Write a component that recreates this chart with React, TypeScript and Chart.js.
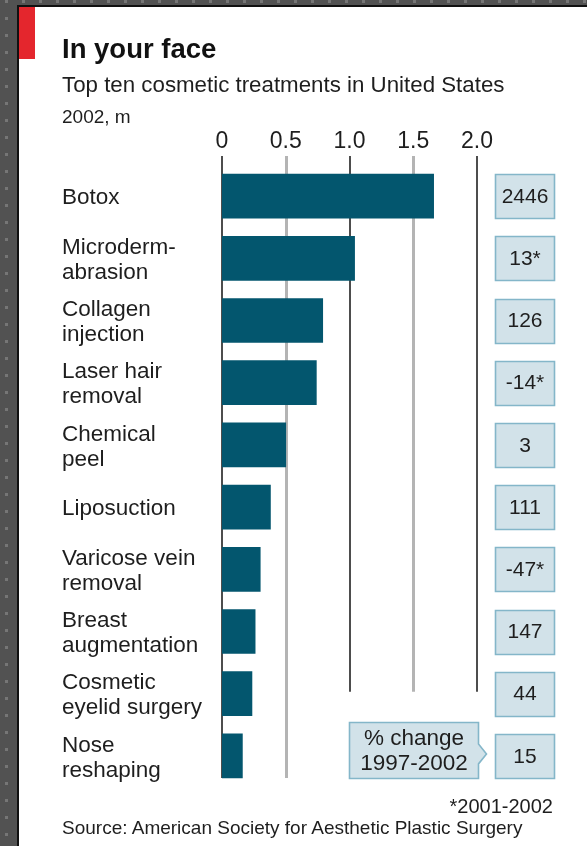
import React, { useEffect, useRef } from 'react';
import { Chart, registerables } from 'chart.js';

Chart.register(...registerables);

const FONT = "'Liberation Sans', Arial, Helvetica, sans-serif";

// ---- data ----
const categories: string[][] = [
  ['Botox'],
  ['Microderm-', 'abrasion'],
  ['Collagen', 'injection'],
  ['Laser hair', 'removal'],
  ['Chemical', 'peel'],
  ['Liposuction'],
  ['Varicose vein', 'removal'],
  ['Breast', 'augmentation'],
  ['Cosmetic', 'eyelid surgery'],
  ['Nose', 'reshaping'],
];
const millions2002: number[] = [1.66, 1.04, 0.79, 0.74, 0.5, 0.38, 0.3, 0.26, 0.235, 0.16];
const pctChange: string[] = ['2446', '13*', '126', '-14*', '3', '111', '-47*', '147', '44', '15'];
const xTickValues: number[] = [0, 0.5, 1.0, 1.5, 2.0];
const xTickLabels: string[] = ['0', '0.5', '1.0', '1.5', '2.0'];
const calloutLines: string[] = ['% change', '1997-2002'];

const titleText = 'In your face';
const subtitleText = 'Top ten cosmetic treatments in United States';
const unitText = '2002, m';
const footnoteText = '*2001-2002';
const sourceText = 'Source: American Society for Aesthetic Plastic Surgery';

// ---- styles ----
const BAR_COLOR = '#03566e';
const BOX_FILL = '#d2e2e9';
const BOX_STROKE = '#84b6c9';
const TEXT = '#1e1e1e';
const BAR_THICK = 44;

const gridPlugin = {
  id: 'econGrid',
  beforeDatasetsDraw(chart: any) {
    const { ctx, chartArea, scales } = chart;
    const xs = scales.x;
    const ys = scales.y;
    const n = categories.length;
    const longBottom = ys.getPixelForValue(n - 1) + BAR_THICK / 2;
    const shortBottom = ys.getPixelForValue(n - 2) - 2;
    ctx.save();
    xTickValues.forEach((v) => {
      const whole = Number.isInteger(v);
      const x = Math.round(xs.getPixelForValue(v)) + (whole ? 0 : 0.5);
      ctx.strokeStyle = whole ? '#4d4d4d' : '#b4b4b4';
      ctx.lineWidth = whole ? 2 : 3;
      ctx.beginPath();
      ctx.moveTo(x, chartArea.top - 9);
      ctx.lineTo(x, v <= 0.5 ? longBottom : shortBottom);
      ctx.stroke();
    });
    ctx.restore();
  },
};

const boxesPlugin = {
  id: 'econBoxes',
  afterDatasetsDraw(chart: any) {
    const { ctx, scales } = chart;
    const xs = scales.x;
    const ys = scales.y;
    const right = xs.getPixelForValue(2.0);
    const bx = right + 18.5;
    const bw = 59;
    ctx.save();
    ctx.lineWidth = 1.6;
    ctx.font = `21px ${FONT}`;
    ctx.textAlign = 'center';
    ctx.textBaseline = 'middle';
    pctChange.forEach((label, i) => {
      const yc = ys.getPixelForValue(i);
      const top = Math.round(yc - BAR_THICK / 2) + 0.5;
      ctx.fillStyle = BOX_FILL;
      ctx.strokeStyle = BOX_STROKE;
      ctx.beginPath();
      ctx.rect(bx, top, bw, BAR_THICK);
      ctx.fill();
      ctx.stroke();
      ctx.fillStyle = TEXT;
      ctx.fillText(label, bx + bw / 2, yc + 1);
    });

    // callout box
    const n = categories.length;
    const cl = Math.round(xs.getPixelForValue(1.0)) - 0.5;
    const cr = Math.round(xs.getPixelForValue(2.0)) + 1.5;
    const yLast = ys.getPixelForValue(n - 1);
    const ct = Math.round(yLast - 34) + 0.5;
    const cb = Math.round(yLast + BAR_THICK / 2) + 0.5;
    const tipY = yLast - 2;
    ctx.fillStyle = BOX_FILL;
    ctx.strokeStyle = BOX_STROKE;
    ctx.beginPath();
    ctx.moveTo(cl, ct);
    ctx.lineTo(cr, ct);
    ctx.lineTo(cr, tipY - 10);
    ctx.lineTo(cr + 8, tipY);
    ctx.lineTo(cr, tipY + 10);
    ctx.lineTo(cr, cb);
    ctx.lineTo(cl, cb);
    ctx.closePath();
    ctx.fill();
    ctx.stroke();
    ctx.fillStyle = TEXT;
    ctx.font = `22.5px ${FONT}`;
    const cx = (cl + cr) / 2;
    const cm = (ct + cb) / 2;
    ctx.fillText(calloutLines[0], cx, cm - 12);
    ctx.fillText(calloutLines[1], cx, cm + 13);
    ctx.restore();
  },
};

function ChartCanvas() {
  const ref = useRef<HTMLCanvasElement | null>(null);
  useEffect(() => {
    if (!ref.current) return;
    Chart.defaults.font.family = FONT;
    const chart = new Chart(ref.current, {
      type: 'bar',
      data: {
        labels: categories,
        datasets: [
          {
            data: millions2002,
            backgroundColor: BAR_COLOR,
            borderWidth: 0,
            barThickness: BAR_THICK,
          },
        ],
      },
      options: {
        indexAxis: 'y',
        responsive: false,
        devicePixelRatio: 1,
        animation: false,
        events: [],
        layout: { padding: { left: 62, top: 120, right: 110, bottom: 59 } },
        plugins: {
          legend: { display: false },
          tooltip: { enabled: false },
          title: { display: false },
        },
        scales: {
          x: {
            position: 'top',
            min: 0,
            max: 2,
            grid: { display: false, drawTicks: true, tickLength: 10 },
            border: { display: false },
            afterBuildTicks: (scale: any) => {
              scale.ticks = xTickValues.map((v) => ({ value: v }));
            },
            afterFit: (scale: any) => {
              scale.height = 45;
            },
            ticks: {
              autoSkip: false,
              maxRotation: 0,
              padding: 0,
              color: TEXT,
              font: { size: 23, lineHeight: 1.2 },
              callback: (_v: any, i: number) => xTickLabels[i],
            },
          },
          y: {
            grid: { display: false },
            border: { display: false },
            afterFit: (scale: any) => {
              scale.width = 160;
            },
            ticks: {
              crossAlign: 'far',
              padding: 0,
              labelOffset: 2,
              color: TEXT,
              autoSkip: false,
              font: { size: 22.5, lineHeight: 1.11 },
            },
          },
        },
      },
      plugins: [gridPlugin, boxesPlugin],
    } as any);
    return () => chart.destroy();
  }, []);
  return (
    <canvas
      ref={ref}
      width={587}
      height={846}
      style={{ position: 'absolute', left: 0, top: 0, width: 587, height: 846, display: 'block' }}
    />
  );
}

const textBase: React.CSSProperties = {
  position: 'absolute',
  fontFamily: FONT,
  color: TEXT,
  lineHeight: 1,
  whiteSpace: 'nowrap',
  margin: 0,
};

export default function App() {
  return (
    <div
      style={{
        position: 'fixed',
        left: 0,
        top: 0,
        width: 587,
        height: 846,
        overflow: 'hidden',
        backgroundColor: '#525252',
        backgroundImage: 'radial-gradient(circle, #767676 0 1.5px, transparent 2px)',
        backgroundSize: '17px 17px',
        backgroundPosition: '-2px -7px',
      }}
    >
      <div
        style={{
          position: 'absolute',
          left: 17,
          top: 5,
          right: 0,
          bottom: 0,
          background: '#ffffff',
          borderLeft: '2px solid #111',
          borderTop: '2px solid #111',
        }}
      />
      <div style={{ position: 'absolute', left: 19, top: 7, width: 16, height: 52, background: '#e4262d' }} />
      <ChartCanvas />
      <div style={{ ...textBase, left: 62, top: 35, fontSize: 27.5, fontWeight: 'bold', color: '#111' }}>{titleText}</div>
      <div style={{ ...textBase, left: 62, top: 74.4, fontSize: 22.3 }}>{subtitleText}</div>
      <div style={{ ...textBase, left: 62, top: 107.2, fontSize: 19 }}>{unitText}</div>
      <div style={{ ...textBase, right: 587 - 553, top: 795.6, fontSize: 20, textAlign: 'right' }}>{footnoteText}</div>
      <div style={{ ...textBase, left: 62, top: 817.5, fontSize: 19 }}>{sourceText}</div>
    </div>
  );
}
